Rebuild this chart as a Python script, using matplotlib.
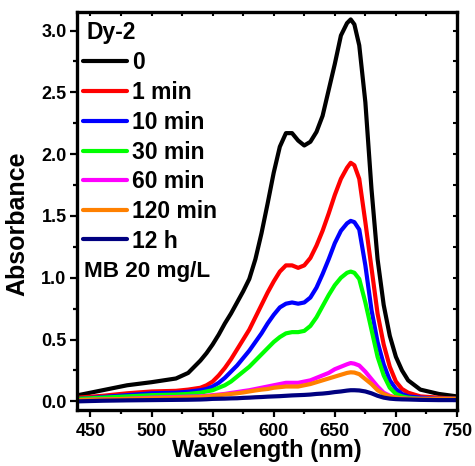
import matplotlib
matplotlib.use("Agg")
import matplotlib.pyplot as plt
from matplotlib.ticker import MultipleLocator
from matplotlib.lines import Line2D

plt.rcParams['font.family'] = ['Liberation Sans', 'DejaVu Sans']
plt.rcParams['font.weight'] = 'bold'

wavelength = [440, 460, 480, 500, 520,
              530, 540, 545, 550, 555, 560, 565, 570, 575, 580,
              585, 590, 595, 600, 605, 610, 615, 620, 625, 630,
              635, 640, 645, 650, 655, 660, 663, 666, 670, 675,
              680, 685, 690, 695, 700, 705, 710, 720, 735, 750]

abs_0 = [0.05, 0.09, 0.13, 0.155, 0.185,
         0.23, 0.33, 0.39, 0.46, 0.54, 0.63, 0.71, 0.80, 0.89, 0.99,
         1.15, 1.36, 1.60, 1.85, 2.06, 2.17, 2.17, 2.11, 2.07, 2.10,
         2.18, 2.31, 2.52, 2.73, 2.96, 3.06, 3.09, 3.05, 2.88, 2.42,
         1.72, 1.15, 0.78, 0.53, 0.36, 0.25, 0.17, 0.095, 0.06, 0.04]
abs_1min = [0.03, 0.045, 0.065, 0.08, 0.085,
            0.095, 0.11, 0.13, 0.16, 0.21, 0.27, 0.34, 0.42, 0.50, 0.58,
            0.68, 0.78, 0.88, 0.97, 1.05, 1.10, 1.10, 1.08, 1.10, 1.16,
            1.26, 1.38, 1.52, 1.67, 1.80, 1.89, 1.93, 1.91, 1.80, 1.45,
            1.08, 0.71, 0.46, 0.28, 0.16, 0.10, 0.07, 0.04, 0.03, 0.02]
abs_10min = [0.02, 0.035, 0.05, 0.065, 0.07,
             0.078, 0.09, 0.10, 0.12, 0.15, 0.19, 0.24, 0.29, 0.35, 0.41,
             0.48, 0.55, 0.63, 0.70, 0.76, 0.79, 0.80, 0.79, 0.80, 0.84,
             0.92, 1.03, 1.15, 1.28, 1.38, 1.44, 1.46, 1.45, 1.39, 1.10,
             0.74, 0.48, 0.30, 0.17, 0.10, 0.06, 0.04, 0.03, 0.02, 0.02]
abs_30min = [0.02, 0.03, 0.04, 0.05, 0.055,
             0.06, 0.07, 0.08, 0.09, 0.11, 0.13, 0.16, 0.20, 0.24, 0.28,
             0.33, 0.38, 0.43, 0.48, 0.52, 0.55, 0.56, 0.56, 0.57, 0.61,
             0.68, 0.77, 0.86, 0.94, 1.00, 1.04, 1.05, 1.04, 0.99, 0.80,
             0.58, 0.36, 0.21, 0.11, 0.06, 0.04, 0.03, 0.02, 0.02, 0.02]
abs_60min = [0.01, 0.015, 0.02, 0.03, 0.035,
             0.038, 0.04, 0.045, 0.05, 0.055, 0.06, 0.068, 0.075, 0.083, 0.09,
             0.10, 0.11, 0.12, 0.13, 0.14, 0.15, 0.15, 0.15, 0.16, 0.17,
             0.19, 0.21, 0.23, 0.26, 0.28, 0.30, 0.31, 0.305, 0.29, 0.24,
             0.18, 0.12, 0.07, 0.045, 0.03, 0.025, 0.02, 0.02, 0.02, 0.02]
abs_120min = [0.01, 0.015, 0.02, 0.025, 0.03,
              0.032, 0.035, 0.04, 0.045, 0.05, 0.055, 0.06, 0.065, 0.072, 0.08,
              0.088, 0.095, 0.10, 0.11, 0.115, 0.12, 0.12, 0.12, 0.13, 0.14,
              0.155, 0.17, 0.185, 0.20, 0.215, 0.23, 0.235, 0.233, 0.22, 0.18,
              0.14, 0.09, 0.06, 0.04, 0.03, 0.025, 0.02, 0.02, 0.02, 0.02]
abs_12h = [0.0, 0.005, 0.008, 0.01, 0.012,
           0.013, 0.015, 0.017, 0.02, 0.021, 0.022, 0.024, 0.025, 0.028, 0.03,
           0.033, 0.035, 0.038, 0.04, 0.042, 0.045, 0.048, 0.05, 0.052, 0.055,
           0.06, 0.063, 0.068, 0.075, 0.08, 0.087, 0.09, 0.09, 0.088, 0.08,
           0.065, 0.045, 0.03, 0.022, 0.018, 0.016, 0.015, 0.012, 0.01, 0.01]

series = [abs_0, abs_1min, abs_10min, abs_30min, abs_60min, abs_120min, abs_12h]
labels = ["0", "1 min", "10 min", "30 min", "60 min", "120 min", "12 h"]
colors = ["#000000", "#FF0000", "#0000FF", "#00FF00", "#FF00FF", "#FF8000", "#000080"]
sample_label = "Dy-2"
condition_label = "MB 20 mg/L"

W, H = 475, 466
fig = plt.figure(figsize=(W / 100, H / 100), dpi=100)
ax = fig.add_axes([77 / W, 1 - 410 / H, 380 / W, 398 / H])

for y, lab, c in zip(series, labels, colors):
    ax.plot(wavelength, y, color=c, lw=3.0, label=lab, solid_joinstyle='round',
            solid_capstyle='round')

ax.set_xlim(439, 750)
ax.set_ylim(-0.07, 3.15)
ax.xaxis.set_major_locator(MultipleLocator(50))
ax.xaxis.set_minor_locator(MultipleLocator(25))
ax.yaxis.set_major_locator(MultipleLocator(0.5))
ax.yaxis.set_minor_locator(MultipleLocator(0.25))

for s in ax.spines.values():
    s.set_linewidth(2.4)

ax.tick_params(which='both', direction='out', width=1.6, labelsize=13,
               top=False, right=False)
ax.tick_params(which='major', length=5)
ax.tick_params(which='minor', length=3)
ax.tick_params(axis='x', pad=4)
ax.tick_params(axis='y', pad=2.5)
ax2 = ax.secondary_xaxis('top')
ax2.set_xticks([])
ax2.xaxis.set_minor_locator(MultipleLocator(25))
ax2.tick_params(which='both', direction='in', length=3, width=1.5, labeltop=False)
ax3 = ax.secondary_yaxis('right')
ax3.set_yticks([])
ax3.yaxis.set_minor_locator(MultipleLocator(0.25))
ax3.tick_params(which='both', direction='in', length=3, width=1.5, labelright=False)
for lab in ax.get_xticklabels() + ax.get_yticklabels():
    lab.set_fontweight('bold')

ax.set_xlabel("Wavelength (nm)", fontsize=17, fontweight='bold', labelpad=0)
ax.set_ylabel("Absorbance", fontsize=18, fontweight='bold')
ax.yaxis.set_label_coords((29 - 77) / 380, (410 - 223.5) / 398)


def fx(px):
    return px / W


def fy(py):
    return 1 - py / H


# legend drawn by hand to match the original layout
fig.text(fx(86.5), fy(39.3), sample_label, fontsize=16.5, fontweight='bold',
         ha='left', va='baseline')
entry_y = [61, 90.7, 120.7, 150.7, 180, 210, 239.3]
for yy, lab, c in zip(entry_y, labels, colors):
    fig.add_artist(Line2D([fx(83), fx(127)], [fy(yy), fy(yy)], color=c, lw=3.0,
                          solid_capstyle='round', transform=fig.transFigure))
    fig.text(fx(132), fy(yy + 8.2), lab, fontsize=16.5, fontweight='bold',
             ha='left', va='baseline')
fig.text(fx(83.5), fy(276.7), condition_label, fontsize=16.2, fontweight='bold',
         ha='left', va='baseline')

fig.savefig("out.png", dpi=100)
